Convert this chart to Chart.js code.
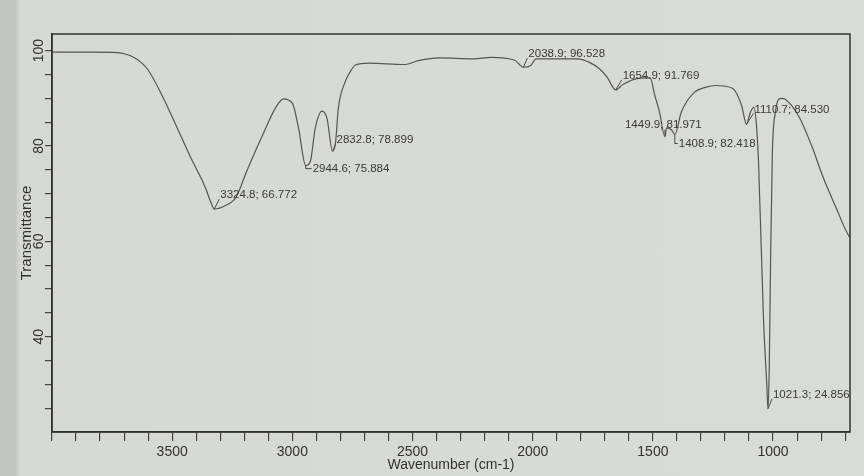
<!DOCTYPE html>
<html>
<head>
<meta charset="utf-8">
<script src="https://cdn.jsdelivr.net/npm/chart.js@4.4.1/dist/chart.umd.min.js"></script>
<style>
  html, body { margin: 0; padding: 0; }
  body {
    width: 864px; height: 476px; overflow: hidden;
    background: linear-gradient(to right, #c4c6c2 0px, #c4c6c2 15px, #d6d8d4 20px, #d9dbd7 100%);
  }
</style>
</head>
<body>
<canvas id="ir" width="864" height="476"></canvas>
<script>
// IR spectrum (wavenumber cm-1 -> % transmittance)
const wavenumbers = [
  4000, 3900, 3827, 3730, 3657, 3601, 3539, 3481, 3424, 3363, 3340, 3324.8,
  3278, 3235, 3189, 3121, 3070, 3037, 3000, 2974, 2944.6, 2925, 2905, 2876,
  2856, 2832.8, 2820, 2809, 2780, 2767, 2737, 2680, 2534, 2476, 2389, 2247,
  2173, 2075, 2038.9, 2008, 1986, 1816, 1766, 1720, 1690, 1654.9, 1625, 1561,
  1511, 1493, 1473, 1449.9, 1443, 1423, 1408.9, 1382, 1327, 1282, 1239, 1169,
  1131, 1110.7, 1095, 1080, 1068, 1060, 1040, 1026, 1021.3, 1016, 1010, 1003,
  991, 968, 950, 894, 839, 793, 740, 683, 680
];
const transmittance = [
  99.7, 99.7, 99.7, 99.6, 98.5, 96.0, 90.3, 84.0, 77.7, 71.4, 68.3, 66.772,
  67.5, 69.2, 74.8, 82.6, 88.0, 89.9, 89.0, 83.7, 75.884, 76.8, 83.7, 87.3,
  85.8, 78.899, 80.9, 87.8, 93.5, 94.9, 97.0, 97.4, 97.1, 97.9, 98.5, 98.3,
  98.6, 98.0, 96.528, 96.9, 98.3, 98.3, 97.6, 96.1, 94.4, 91.769, 92.9, 94.2,
  94.3, 90.8, 87.2, 81.971, 83.8, 83.4, 82.418, 87.1, 91.3, 92.3, 92.7, 92.1,
  88.5, 84.530, 87.0, 88.1, 83.6, 75.9, 43.8, 29.7, 24.856, 33.3, 57.6, 78.6,
  86.9, 90.0, 89.8, 86.3, 80.0, 73.6, 67.3, 61.0, 60.9
];

// labelled peaks
const peakWavenumbers = [3324.8, 2944.6, 2832.8, 2038.9, 1654.9, 1449.9, 1408.9, 1110.7, 1021.3];
const peakTransmittance = [66.772, 75.884, 78.899, 96.528, 91.769, 81.971, 82.418, 84.530, 24.856];

const xTickLabels = [3500, 3000, 2500, 2000, 1500, 1000];
const yTickLabels = [40, 60, 80, 100];

// where each peak label sits relative to its dip (px)
const labelOffsets = [[6, -14], [7, 3], [4, -11], [5, -13], [7, -14], [-40, -12], [4, 9], [8, -15], [5, -14]];

const FONT = '"Liberation Sans", Arial, sans-serif';
const INK = '#333';

const irDecor = {
  id: 'irDecor',
  afterDraw(chart) {
    const ctx = chart.ctx;
    const a = chart.chartArea;
    const x = chart.scales.x;
    const y = chart.scales.y;
    ctx.save();

    // box round the plot
    ctx.strokeStyle = INK;
    ctx.lineWidth = 1.5;
    ctx.strokeRect(a.left, a.top, a.right - a.left, a.bottom - a.top);

    // rotated y tick labels
    ctx.fillStyle = INK;
    ctx.font = '14px ' + FONT;
    ctx.textAlign = 'center';
    ctx.textBaseline = 'middle';
    yTickLabels.forEach(v => {
      ctx.save();
      ctx.translate(a.left - 13, y.getPixelForValue(v));
      ctx.rotate(-Math.PI / 2);
      ctx.fillText(String(v), 0, 0);
      ctx.restore();
    });

    // peak labels with their little leader lines
    ctx.font = '11.5px ' + FONT;
    ctx.textAlign = 'left';
    ctx.fillStyle = '#3a3a3a';
    ctx.strokeStyle = '#4a4a4a';
    ctx.lineWidth = 1;
    peakWavenumbers.forEach((w, i) => {
      const px = x.getPixelForValue(w);
      const py = y.getPixelForValue(peakTransmittance[i]);
      const dx = labelOffsets[i][0], dy = labelOffsets[i][1];
      ctx.beginPath();
      ctx.moveTo(px, py);
      if (dx < 0) {
        ctx.lineTo(px, py + dy + 5);
      } else if (dy > 0) {
        ctx.lineTo(px, py + dy);
        ctx.lineTo(px + dx - 1, py + dy);
      } else {
        ctx.lineTo(px + dx - 1, py + dy + 4);
      }
      ctx.stroke();
      ctx.fillText(w.toFixed(1) + '; ' + peakTransmittance[i].toFixed(3), px + dx, py + dy);
    });

    ctx.restore();
  }
};

new Chart(document.getElementById('ir'), {
  type: 'line',
  data: {
    datasets: [{
      data: wavenumbers.map((w, i) => ({ x: w, y: transmittance[i] })),
      borderColor: '#555',
      borderWidth: 1.2,
      pointRadius: 0,
      fill: false,
      cubicInterpolationMode: 'monotone'
    }]
  },
  options: {
    responsive: false,
    animation: false,
    devicePixelRatio: 1,
    layout: { padding: { left: 14, right: 14, top: 34, bottom: 0 } },
    plugins: { legend: { display: false }, tooltip: { enabled: false } },
    scales: {
      x: {
        type: 'linear',
        reverse: true,
        min: 680,
        max: 4000,
        afterFit: s => { s.height = 44; },
        grid: { drawOnChartArea: false, tickLength: 9, color: '#444', lineWidth: 1.2 },
        border: { display: true, color: INK, width: 1.5 },
        ticks: {
          stepSize: 100,
          autoSkip: false,
          maxRotation: 0,
          includeBounds: false,
          padding: 3,
          color: INK,
          font: { family: FONT, size: 14 },
          callback: v => xTickLabels.includes(v) ? String(v) : ''
        },
        title: {
          display: true,
          text: 'Wavenumber (cm-1)',
          color: INK,
          font: { family: FONT, size: 14 },
          padding: { top: 0, bottom: 2 }
        }
      },
      y: {
        min: 20,
        max: 103.5,
        afterFit: s => { s.width = 38; },
        grid: {
          drawOnChartArea: false,
          tickLength: 7,
          lineWidth: 1.2,
          color: c => (c.tick && c.tick.value === 20) ? 'rgba(0,0,0,0)' : '#444'
        },
        border: { display: true, color: INK, width: 1.5 },
        ticks: { stepSize: 5, display: false, includeBounds: false, autoSkip: false },
        title: {
          display: true,
          text: 'Transmittance',
          color: INK,
          font: { family: FONT, size: 15 },
          padding: { top: 4, bottom: 0 }
        }
      }
    }
  },
  plugins: [irDecor]
});
</script>
</body>
</html>
